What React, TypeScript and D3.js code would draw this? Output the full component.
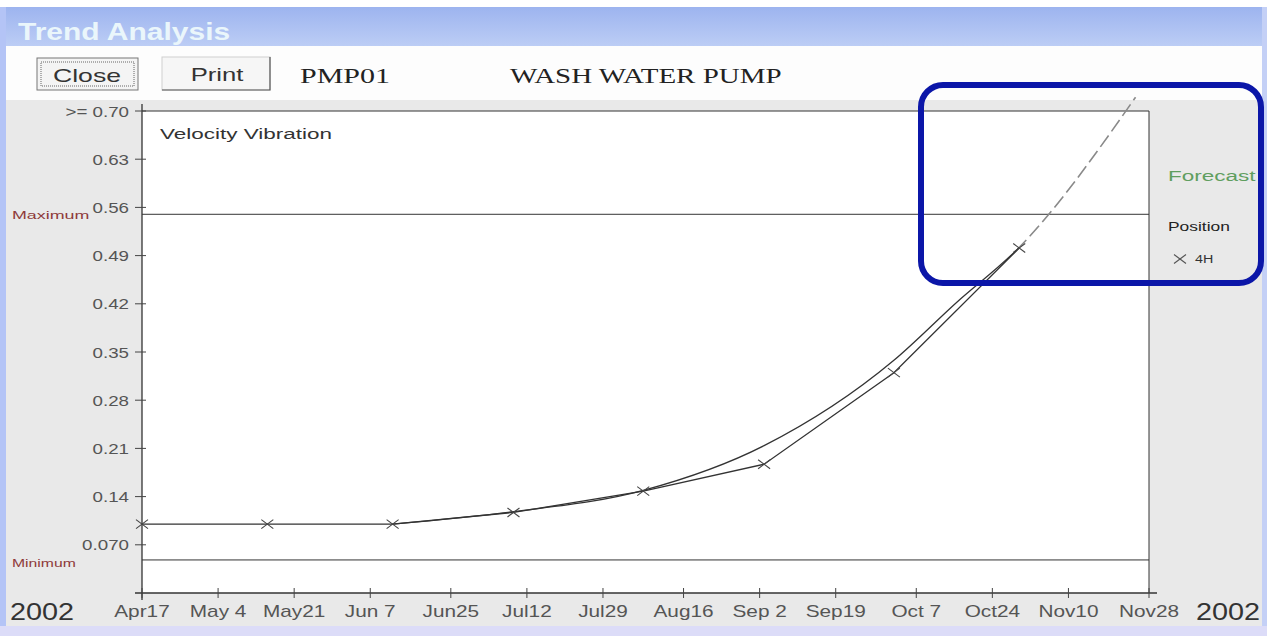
import React from 'react';
import * as d3 from 'd3';

// tick dates on the time axis
const tickDates = [
  '2002-04-17', '2002-05-04', '2002-05-21', '2002-06-07', '2002-06-25', '2002-07-12', '2002-07-29',
  '2002-08-16', '2002-09-02', '2002-09-19', '2002-10-07', '2002-10-24', '2002-11-10', '2002-11-28',
];
const yTickValues = [0.07, 0.14, 0.21, 0.28, 0.35, 0.42, 0.49, 0.56, 0.63, 0.7];
const yTickLabels = ['0.070', '0.14', '0.21', '0.28', '0.35', '0.42', '0.49', '0.56', '0.63', '>= 0.70'];

// measured readings, position 4H
const measuredDates = ['2002-04-17', '2002-05-15', '2002-06-12', '2002-07-09', '2002-08-07', '2002-09-03', '2002-10-02', '2002-10-30'];
const measuredValues = [0.1, 0.1, 0.1, 0.117, 0.148, 0.187, 0.32, 0.501];

// forecast curve
const forecastDates = ['2002-06-12', '2002-07-09', '2002-08-07', '2002-09-03', '2002-10-02', '2002-10-16', '2002-10-30', '2002-11-25'];
const forecastValues = [0.1, 0.118, 0.149, 0.214, 0.338, 0.422, 0.502, 0.72];

const maximumLevel = 0.55;
const minimumLevel = 0.048;

const W = 1267;
const H = 636;
const sans = '"Liberation Sans", Arial, sans-serif';
const serif = '"Liberation Serif", "Times New Roman", serif';

const parse = d3.timeParse('%Y-%m-%d');
const fmt = d3.timeFormat('%b%e');

// the screenshot is stretched sideways, so text gets a horizontal scale
const T = ({
  x, y, sx = 1.4, size, fill = '#333', anchor = 'start', family = sans, weight = 'normal', children,
}: {
  x: number; y: number; sx?: number; size: number; fill?: string; anchor?: string; family?: string; weight?: string;
  children: React.ReactNode;
}) => (
  <text
    transform={`translate(${x},${y}) scale(${sx},1)`}
    fontSize={size}
    fill={fill}
    textAnchor={anchor}
    fontFamily={family}
    fontWeight={weight}
  >
    {children}
  </text>
);

const XMark = ({ cx, cy, r = 6, color = '#444' }: { cx: number; cy: number; r?: number; color?: string }) => (
  <g stroke={color} strokeWidth={1.1}>
    <line x1={cx - r} y1={cy - r * 0.75} x2={cx + r} y2={cy + r * 0.75} />
    <line x1={cx - r} y1={cy + r * 0.75} x2={cx + r} y2={cy - r * 0.75} />
  </g>
);

const App = () => {
  const ticks = tickDates.map(d => parse(d) as Date);
  const x = d3.scaleTime().domain([ticks[0], ticks[ticks.length - 1]]).range([142, 1149]);
  const y = d3.scaleLinear().domain([0, 0.7]).range([593, 111]);

  const measured = measuredDates.map((d, i) => ({ date: parse(d) as Date, value: measuredValues[i] }));
  const forecast = forecastDates.map((d, i) => ({ date: parse(d) as Date, value: forecastValues[i] }));

  const straight = d3.line<{ date: Date; value: number }>().x(d => x(d.date)).y(d => y(d.value));
  const smooth = d3
    .line<{ date: Date; value: number }>()
    .x(d => x(d.date))
    .y(d => y(d.value))
    .curve(d3.curveMonotoneX);

  const lastX = x(measured[measured.length - 1].date);
  const left = x.range()[0];
  const right = x.range()[1];

  return (
    <svg width={W} height={H} style={{ position: 'absolute', left: 0, top: 0, display: 'block' }} fontFamily={sans}>
      <defs>
        <linearGradient id="title" x1="0" y1="0" x2="0" y2="1">
          <stop offset="0" stopColor="#9db4ef" />
          <stop offset="1" stopColor="#bccdf5" />
        </linearGradient>
        <clipPath id="solidPart">
          <rect x={0} y={0} width={lastX} height={H} />
        </clipPath>
        <clipPath id="dashPart">
          <rect x={lastX} y={0} width={W - lastX} height={H} />
        </clipPath>
      </defs>

      {/* window frame */}
      <rect x={0} y={0} width={W} height={H} fill="#ffffff" />
      <rect x={0} y={7} width={W} height={39} fill="url(#title)" />
      <T x={18} y={40} sx={1.25} size={24} weight="bold" fill="#eaf6fb">Trend Analysis</T>
      <rect x={0} y={46} width={W} height={55} fill="#fdfdfd" />
      <rect x={0} y={100} width={W} height={H - 100} fill="#e9e9e9" />
      <rect x={0} y={7} width={6} height={H - 7} fill="#b4c4f6" />
      <rect x={W - 5} y={7} width={5} height={H - 7} fill="#c4d0f6" />
      <rect x={0} y={H - 10} width={W} height={10} fill="#dcdcf8" />

      {/* toolbar */}
      <rect x={37} y={58} width={101} height={32} fill="#f4f4f4" stroke="#777" strokeWidth={1} />
      <rect x={41} y={62} width={93} height={24} fill="none" stroke="#666" strokeWidth={1} strokeDasharray="1,1" />
      <T x={87} y={82} sx={1.4} size={19} anchor="middle">Close</T>
      <rect x={162} y={57} width={108} height={33} fill="#f6f6f6" stroke="#cfcfcf" strokeWidth={1} />
      <path d="M162,90 H270 V57" fill="none" stroke="#555" strokeWidth={1.2} />
      <T x={217} y={81} sx={1.35} size={19} anchor="middle">Print</T>
      <T x={300} y={83} sx={1.5} size={20} fill="#222" family={serif}>PMP01</T>
      <T x={510} y={83} sx={1.45} size={20} fill="#222" family={serif}>WASH WATER PUMP</T>

      {/* plot area */}
      <rect x={left} y={y(0.7)} width={right - left} height={y(0) - y(0.7)} fill="#ffffff" />
      <line x1={left} x2={right} y1={y(0.7)} y2={y(0.7)} stroke="#333" />
      <line x1={right} x2={right} y1={y(0.7)} y2={y(0)} stroke="#333" />
      <line x1={left} x2={right} y1={y(maximumLevel)} y2={y(maximumLevel)} stroke="#333" />
      <line x1={left} x2={right} y1={y(minimumLevel)} y2={y(minimumLevel)} stroke="#333" />

      {/* y axis */}
      <line x1={left} x2={left} y1={104} y2={600} stroke="#333" strokeWidth={1.3} />
      {yTickValues.map((v, i) => (
        <g key={v}>
          <line x1={left - 7} x2={left + 4} y1={y(v)} y2={y(v)} stroke="#444" />
          <T x={129} y={y(v) + 5.5} sx={1.25} size={15} fill="#555" anchor="end">
            {yTickLabels[i]}
          </T>
        </g>
      ))}
      <T x={12} y={y(maximumLevel) + 5} sx={1.7} size={10.5} fill="#8e3a3a">Maximum</T>
      <T x={12} y={y(minimumLevel) + 7} sx={1.5} size={10.5} fill="#8e3a3a">Minimum</T>

      {/* x axis */}
      <line x1={135} x2={1157} y1={y(0)} y2={y(0)} stroke="#333" strokeWidth={1.3} />
      {ticks.map(t => (
        <g key={t.getTime()}>
          <line x1={x(t)} x2={x(t)} y1={y(0) - 5} y2={y(0) + 5} stroke="#444" />
          <T x={x(t)} y={617} sx={1.3} size={16} fill="#555" anchor="middle">
            {fmt(t)}
          </T>
        </g>
      ))}
      <T x={10} y={620} sx={1.2} size={24} fill="#333">2002</T>
      <T x={1260} y={620} sx={1.2} size={24} fill="#333" anchor="end">2002</T>

      <T x={160} y={139} sx={1.5} size={15} fill="#333">Velocity Vibration</T>

      {/* series */}
      <path d={straight(measured) || ''} fill="none" stroke="#333" strokeWidth={1.3} />
      <path d={smooth(forecast) || ''} fill="none" stroke="#333" strokeWidth={1.3} clipPath="url(#solidPart)" />
      <path
        d={smooth(forecast) || ''}
        fill="none"
        stroke="#8a8a8a"
        strokeWidth={1.6}
        strokeDasharray="14,5"
        clipPath="url(#dashPart)"
      />
      {measured.map(d => (
        <XMark key={d.date.getTime()} cx={x(d.date)} cy={y(d.value)} />
      ))}

      {/* legend */}
      <T x={1168} y={181} sx={1.5} size={15} fill="#5f9e5f">Forecast</T>
      <T x={1168} y={231} sx={1.45} size={12} fill="#222">Position</T>
      <XMark cx={1180} cy={259} r={6} color="#555" />
      <T x={1195} y={263} sx={1.3} size={11} fill="#333">4H</T>

      {/* highlight */}
      <rect x={921} y={85} width={340} height={198} rx={22} fill="none" stroke="#0b16a8" strokeWidth={6} />
    </svg>
  );
};

export default App;
